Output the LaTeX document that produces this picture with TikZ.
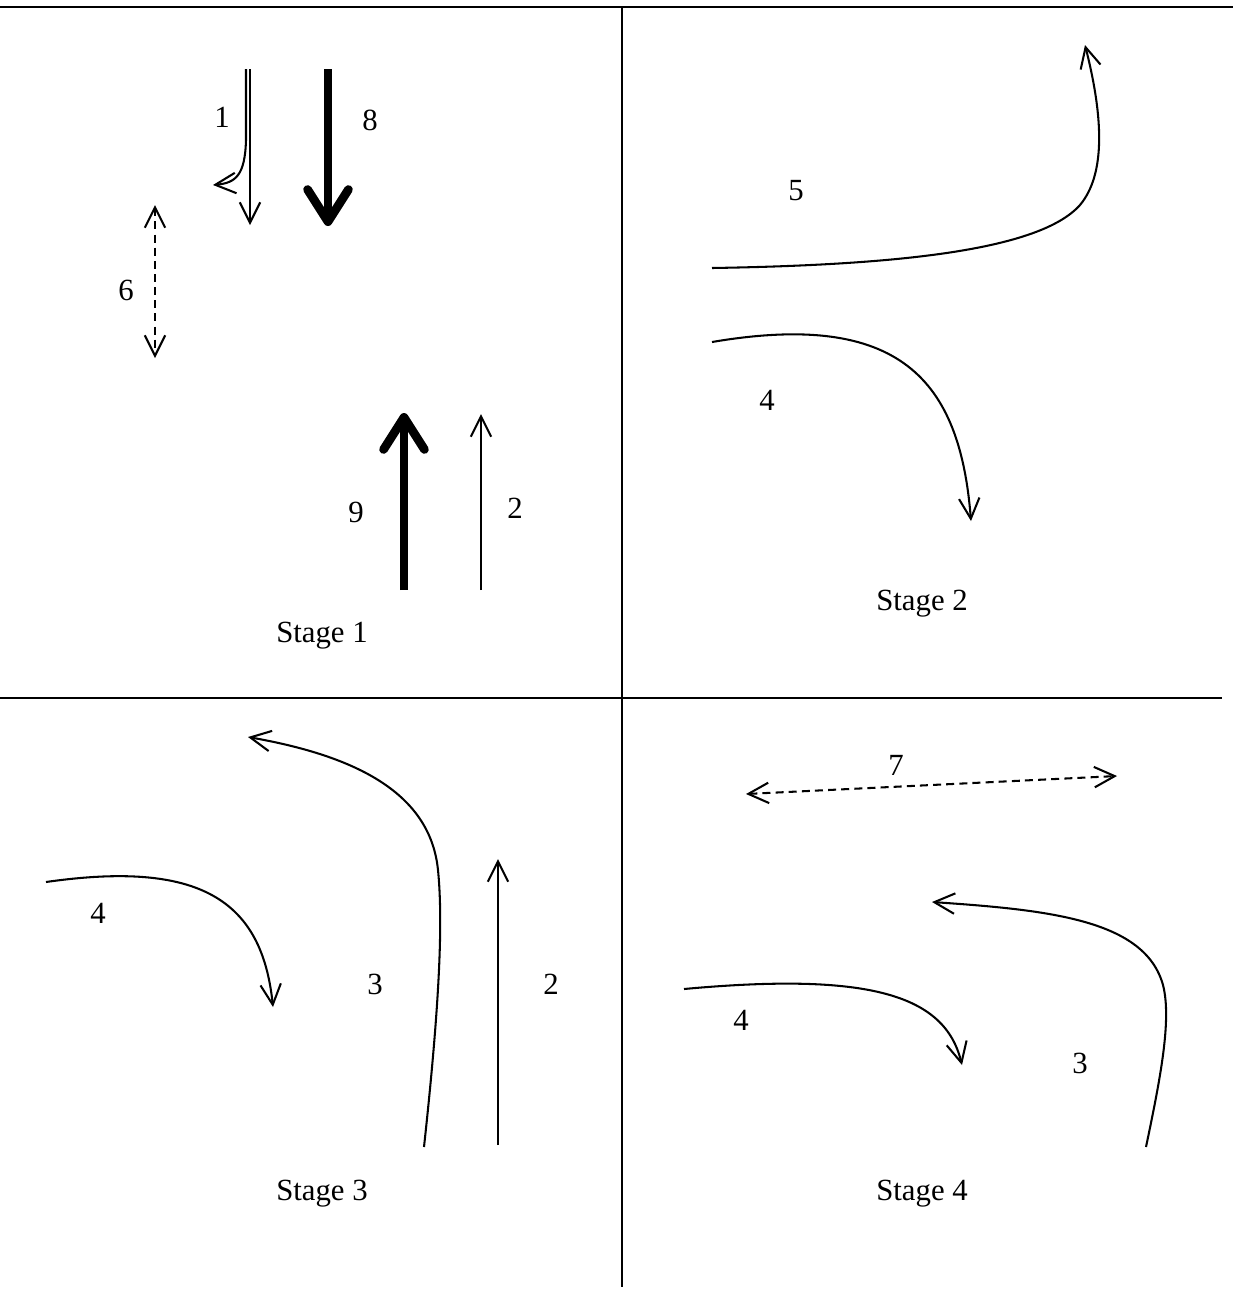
\documentclass[tikz,border=0pt]{standalone}
\usepackage{fontspec}
\setmainfont{Liberation Serif}
\usetikzlibrary{arrows.meta}

\begin{document}
\begin{tikzpicture}[
        x=0.137mm, y=-0.137mm,
        flow/.style={-{Straight Barb[length=2.8mm, width=2.8mm]}, line width=0.8pt},
        heavy/.style={-{Straight Barb[length=4.4mm, width=5.6mm, round]}, line width=3.4pt},
        walk/.style={{Straight Barb[length=2.8mm, width=2.8mm]}-{Straight Barb[length=2.8mm, width=2.8mm]}, line width=0.8pt, dash pattern=on 1.1mm off 0.7mm},
        frame/.style={line width=0.6pt},
        lbl/.style={font=\fontsize{12}{14}\selectfont, inner sep=0pt}
    ]
    \useasboundingbox (0,0) rectangle (1233,1295);

    % frame
    \coordinate (top west) at (0,7);
    \coordinate (top east) at (1233,7);
    \coordinate (mid west) at (0,698);
    \coordinate (mid east) at (1222,698);
    \coordinate (split north) at (622,8);
    \coordinate (split south) at (622,1287);
    \draw[frame] (top west) -- (top east);
    \draw[frame] (mid west) -- (mid east);
    \draw[line width=0.4pt] (split north) -- (split south);

    % stage 1
    \coordinate (s1 turn start) at (246,69);
    \coordinate (s1 turn bend) at (246,140);
    \coordinate (s1 turn end) at (213,185);
    \coordinate (s1 down start) at (250,69);
    \coordinate (s1 down end) at (250,225);
    \coordinate (s1 heavy down start) at (328,69);
    \coordinate (s1 heavy down end) at (328,226);
    \coordinate (s1 walk north) at (155,205);
    \coordinate (s1 walk south) at (155,358);
    \coordinate (s1 heavy up start) at (404,590);
    \coordinate (s1 heavy up end) at (404,413);
    \coordinate (s1 up start) at (481,590);
    \coordinate (s1 up end) at (481,414);

    \draw[flow] (s1 turn start) -- (s1 turn bend) .. controls (245,175) and (236,183) .. (s1 turn end);
    \draw[flow] (s1 down start) -- (s1 down end);
    \draw[heavy] (s1 heavy down start) -- (s1 heavy down end);
    \draw[walk] (s1 walk north) -- (s1 walk south);
    \draw[heavy] (s1 heavy up start) -- (s1 heavy up end);
    \draw[flow] (s1 up start) -- (s1 up end);

    \node (lbl1) [lbl] at (222,117) {1};
    \node (lbl8) [lbl] at (370,120) {8};
    \node (lbl6) [lbl] at (126,290) {6};
    \node (lbl9) [lbl] at (356,512) {9};
    \node (lbl2a) [lbl] at (515,508) {2};
    \node (stage1) [lbl] at (322,636) {Stage 1};

    % stage 2
    \coordinate (s2 five start) at (712,268);
    \coordinate (s2 five end) at (1085,45);
    \coordinate (s2 four start) at (712,342);
    \coordinate (s2 four end) at (971,521);

    \draw[flow] (s2 five start) .. controls (900,265) and (1040,250) .. (1080,205)
        .. controls (1105,175) and (1104,120) .. (s2 five end);
    \draw[flow] (s2 four start) .. controls (900,310) and (960,380) .. (s2 four end);

    \node (lbl5) [lbl] at (796,191) {5};
    \node (lbl4a) [lbl] at (767,400) {4};
    \node (stage2) [lbl] at (922,604) {Stage 2};

    % stage 3
    \coordinate (s3 four start) at (46,882);
    \coordinate (s3 four end) at (273,1007);
    \coordinate (s3 three start) at (424,1147);
    \coordinate (s3 three end) at (248,737);
    \coordinate (s3 up start) at (498,1145);
    \coordinate (s3 up end) at (498,859);

    \draw[flow] (s3 four start) .. controls (200,860) and (262,900) .. (s3 four end);
    \draw[flow] (s3 three start) .. controls (440,1000) and (443,920) .. (438,870)
        .. controls (430,790) and (350,755) .. (s3 three end);
    \draw[flow] (s3 up start) -- (s3 up end);

    \node (lbl4b) [lbl] at (98,913) {4};
    \node (lbl3a) [lbl] at (375,984) {3};
    \node (lbl2b) [lbl] at (551,984) {2};
    \node (stage3) [lbl] at (322,1194) {Stage 3};

    % stage 4
    \coordinate (s4 walk west) at (746,794);
    \coordinate (s4 walk east) at (1117,776);
    \coordinate (s4 four start) at (684,989);
    \coordinate (s4 four end) at (962,1065);
    \coordinate (s4 three start) at (1146,1147);
    \coordinate (s4 three end) at (932,902);

    \draw[walk] (s4 walk west) -- (s4 walk east);
    \draw[flow] (s4 four start) .. controls (870,972) and (945,995) .. (s4 four end);
    \draw[flow] (s4 three start) .. controls (1160,1080) and (1172,1020) .. (1163,985)
        .. controls (1145,920) and (1050,910) .. (s4 three end);

    \node (lbl7) [lbl] at (896,765) {7};
    \node (lbl4c) [lbl] at (741,1020) {4};
    \node (lbl3b) [lbl] at (1080,1063) {3};
    \node (stage4) [lbl] at (922,1194) {Stage 4};

\end{tikzpicture}
\end{document}
